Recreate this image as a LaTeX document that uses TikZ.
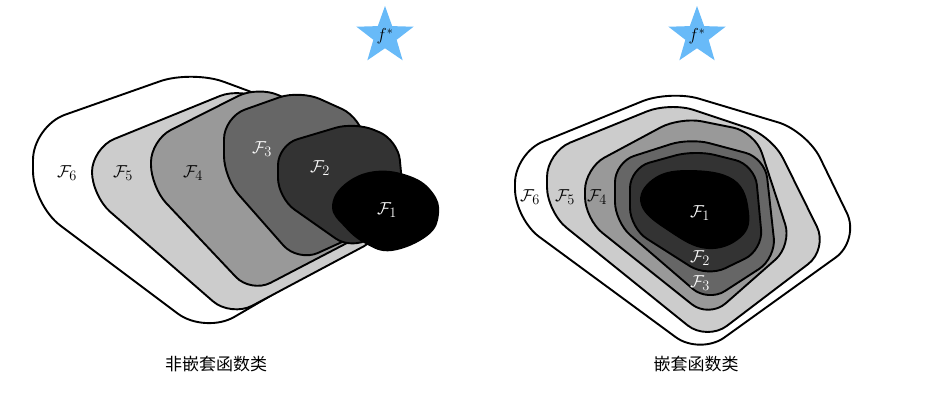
\documentclass[tikz,border=0pt]{standalone}
\usepackage{amsmath}
\usepackage{xcolor}
\usepackage{fontspec}
\usetikzlibrary{shapes.geometric}
\newfontfamily\cjk{Noto Sans CJK SC}
\definecolor{sky}{RGB}{104,186,248}
\definecolor{grey5}{HTML}{CCCCCC}
\definecolor{grey4}{HTML}{999999}
\definecolor{grey3}{HTML}{666666}
\definecolor{grey2}{HTML}{333333}

\begin{document}
\begin{tikzpicture}[x=1pt,y=-1pt,
   function class/.style={draw=black,line width=1.9pt,line join=round},
   class label/.style={font=\fontsize{19}{22}\selectfont,inner sep=0pt},
   light label/.style={class label,text=white},
   target star/.style={star,star points=5,star point ratio=2.45,fill=sky,
      minimum size=60pt,inner sep=0pt,font=\fontsize{17}{19}\selectfont},
   caption/.style={font=\cjk\fontsize{17}{20}\selectfont}]
  \useasboundingbox (0,0) rectangle (951,400);

  % not nested
  \filldraw[function class,fill=white,rounded corners=34pt]
    (33,126) -- (192,70) -- (300,110) -- (380,232) -- (205,334) -- (33,205) -- cycle;
  \filldraw[function class,fill=grey5,rounded corners=24pt]
    (92,148) -- (242,87) -- (330,140) -- (385,235) -- (231,317) -- (92,196) -- cycle;
  \filldraw[function class,fill=grey4,rounded corners=22pt]
    (151,140) -- (258,86) -- (345,125) -- (370,231) -- (251,293) -- (151,187) -- cycle;
  \filldraw[function class,fill=grey3,rounded corners=22pt]
    (224,117) -- (300,90) -- (362,118) -- (375,227) -- (298,262) -- (224,178) -- cycle;
  \filldraw[function class,fill=grey2,rounded corners=20pt]
    (278,145) -- (355,122) -- (398,140) -- (405,215) -- (352,250) -- (278,198) -- cycle;
  \filldraw[function class,fill=black]
    plot[smooth cycle,tension=0.7] coordinates {(333,207) (345,185) (375,172) (410,177)
      (432,193) (438,214) (427,235) (392,250) (366,243) (345,226)};

  \node[class label] (l6) at (67,173) {$\mathcal{F}_6$};
  \node[class label] (l5) at (123,173) {$\mathcal{F}_5$};
  \node[class label] (l4) at (193,173) {$\mathcal{F}_4$};
  \node[light label] (l3) at (262,149) {$\mathcal{F}_3$};
  \node[light label] (l2) at (320,168) {$\mathcal{F}_2$};
  \node[light label] (l1) at (387,210) {$\mathcal{F}_1$};

  % nested
  \filldraw[function class,fill=white,rounded corners=30pt]
    (515,153) -- (670,90) -- (807,131) -- (860,240) -- (700,355) -- (515,219) -- cycle;
  \filldraw[function class,fill=grey5,rounded corners=25pt]
    (547,152) -- (670,102) -- (772,136) -- (828,249) -- (707,341) -- (547,212) -- cycle;
  \filldraw[function class,fill=grey4,rounded corners=22pt]
    (585,168) -- (680,117) -- (755,132) -- (792,245) -- (709,318) -- (585,219) -- cycle;
  \filldraw[function class,fill=grey3,rounded corners=20pt]
    (615,162) -- (690,138) -- (765,158) -- (776,258) -- (708,302) -- (615,222) -- cycle;
  \filldraw[function class,fill=grey2,rounded corners=20pt]
    (630,168) -- (695,150) -- (755,165) -- (763,250) -- (707,277) -- (630,228) -- cycle;
  \filldraw[function class,fill=black]
    plot[smooth cycle,tension=0.7] coordinates {(642,205) (653,180) (687,171) (733,180)
      (748,212) (740,237) (707,248) (670,231)};

  \node[class label] (r6) at (530,197) {$\mathcal{F}_6$};
  \node[class label] (r5) at (565,197) {$\mathcal{F}_5$};
  \node[class label] (r4) at (597,197) {$\mathcal{F}_4$};
  \node[light label] (r1) at (700,213) {$\mathcal{F}_1$};
  \node[light label] (r2) at (700,258) {$\mathcal{F}_2$};
  \node[light label] (r3) at (700,283) {$\mathcal{F}_3$};

  \node[target star] (star1) at (385,36) {$f^*$};
  \node[target star] (star2) at (697,36) {$f^*$};

  \node[caption] (cap1) at (216,364) {非嵌套函数类};
  \node[caption] (cap2) at (696,364) {嵌套函数类};
\end{tikzpicture}
\end{document}
